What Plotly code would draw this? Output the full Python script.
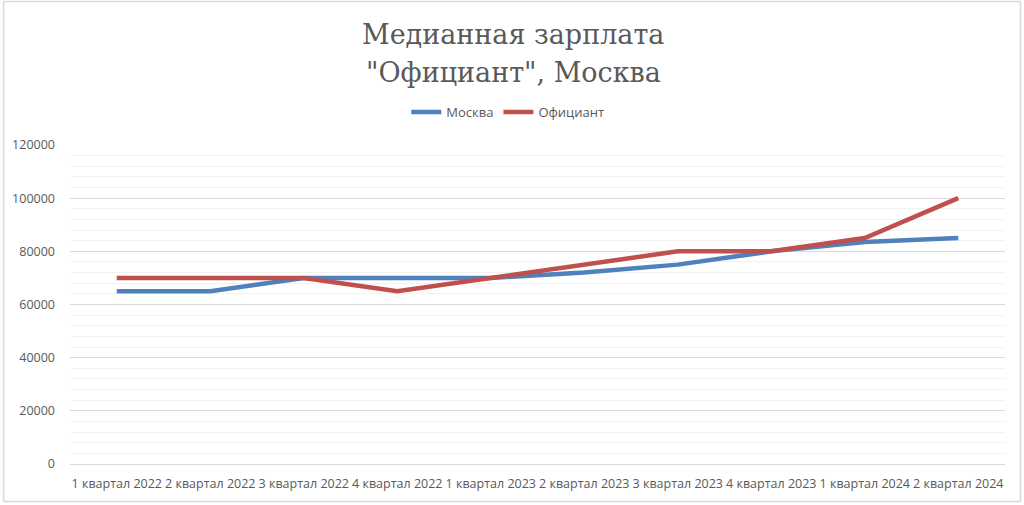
import plotly.graph_objects as go

categories = ["1 квартал 2022", "2 квартал 2022", "3 квартал 2022", "4 квартал 2022",
              "1 квартал 2023", "2 квартал 2023", "3 квартал 2023", "4 квартал 2023",
              "1 квартал 2024", "2 квартал 2024"]
moscow = [65000, 65000, 70000, 70000, 70000, 72000, 75000, 80000, 83500, 85000]
waiter = [70000, 70000, 70000, 65000, 70000, 75000, 80000, 80000, 85000, 100000]
y_ticks = [0, 20000, 40000, 60000, 80000, 100000, 120000]
title_lines = ["Медианная зарплата", "\"Официант\", Москва"]

W, H = 1024, 505
L, R, T, B = 68, 1005, 145, 464

fig = go.Figure()
fig.add_trace(go.Scatter(x=categories, y=moscow, name="Москва", mode="lines",
                         line=dict(color="#4F81BD", width=4.5)))
fig.add_trace(go.Scatter(x=categories, y=waiter, name="Официант", mode="lines",
                         line=dict(color="#C0504D", width=4.5)))

def px(x):
    return (x - L) / (R - L)

def py(y):
    return (B - y) / (B - T)

annotations = [
    dict(text=title_lines[0], xref="paper", yref="paper", x=px(512), y=py(35),
         xanchor="center", yanchor="middle", showarrow=False,
         font=dict(family="DejaVu Serif", size=27, color="#595959")),
    dict(text=title_lines[1], xref="paper", yref="paper", x=px(512), y=py(72),
         xanchor="center", yanchor="middle", showarrow=False,
         font=dict(family="DejaVu Serif", size=27, color="#595959")),
]

fig.update_layout(
    width=W, height=H,
    margin=dict(l=L, r=W - R, t=T, b=H - B),
    paper_bgcolor="white", plot_bgcolor="white",
    annotations=annotations,
    showlegend=True,
    legend=dict(orientation="h", x=px(405), xanchor="left", y=py(112), yanchor="middle",
                font=dict(family="Open Sans", size=13, color="#595959"),
                itemwidth=30, tracegroupgap=0, bgcolor="rgba(0,0,0,0)"),
    xaxis=dict(type="category", showgrid=False, showline=False, zeroline=False,
               ticks="", tickfont=dict(family="Open Sans", size=12.5, color="#595959"),
               tickangle=0, range=[-0.5, len(categories) - 0.5], ticklabelstandoff=10),
    yaxis=dict(range=[0, 120000], tickvals=y_ticks, ticktext=[str(v) for v in y_ticks],
               showgrid=True, gridcolor="#D9D9D9", gridwidth=1, zeroline=True,
               zerolinecolor="#D9D9D9", zerolinewidth=1,
               tickfont=dict(family="Open Sans", size=12.5, color="#595959"),
               ticks="", showline=False, ticklabelstandoff=14,
               minor=dict(dtick=4000, tick0=0, showgrid=True, gridcolor="#F2F2F2", gridwidth=1)),
    font=dict(family="Open Sans", color="#595959"),
    shapes=[dict(type="rect", xref="paper", yref="paper",
                 x0=px(1.5), x1=px(1020.5), y0=py(501.5), y1=py(1.5),
                 line=dict(color="#D9D9D9", width=1.5), layer="below")],
)

fig.write_html("out.html")
